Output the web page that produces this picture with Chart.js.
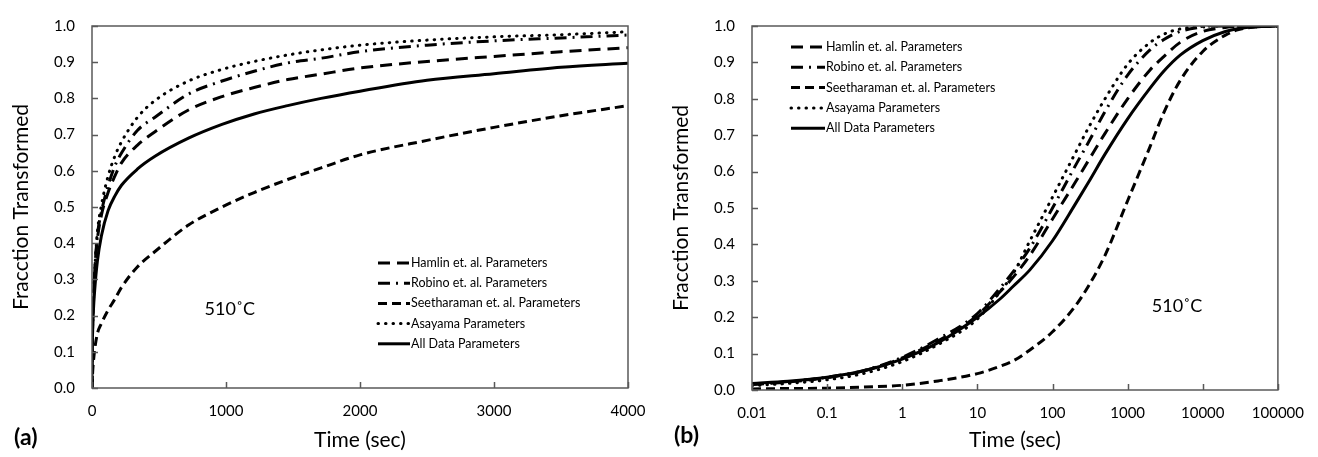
<!DOCTYPE html>
<html>
<head>
<meta charset="utf-8">
<script src="https://cdn.jsdelivr.net/npm/chart.js@4.4.1/dist/chart.umd.min.js"></script>
<style>
html,body{margin:0;padding:0;background:#fff;}
#wrap{position:relative;width:1318px;height:457px;}
canvas{position:absolute;top:0;}
#chartA{left:0;}
#chartB{left:660px;}
</style>
</head>
<body>
<div id="wrap">
  <canvas id="chartA" width="660" height="457"></canvas>
  <canvas id="chartB" width="658" height="457"></canvas>
</div>
<script>
// panel (a): linear time axis
const timesA = [0, 1, 5, 10, 20, 40, 70, 120, 170, 220, 340, 470, 720, 970, 1210, 1460, 1710, 2000, 2500, 3000, 3500, 4000];
const hamlinA = [0, 0.09, 0.18, 0.24, 0.32, 0.41, 0.477, 0.54, 0.585, 0.622, 0.671, 0.708, 0.768, 0.805, 0.83, 0.852, 0.867, 0.884, 0.902, 0.916, 0.929, 0.94];
const robinoA = [0, 0.09, 0.18, 0.24, 0.32, 0.42, 0.486, 0.558, 0.613, 0.649, 0.712, 0.748, 0.812, 0.848, 0.875, 0.898, 0.911, 0.929, 0.947, 0.959, 0.967, 0.975];
const seethA = [0, 0.012, 0.045, 0.07, 0.106, 0.15, 0.178, 0.215, 0.245, 0.278, 0.335, 0.377, 0.45, 0.5, 0.54, 0.576, 0.608, 0.644, 0.684, 0.72, 0.752, 0.78];
const asayamaA = [0, 0.08, 0.17, 0.23, 0.32, 0.43, 0.504, 0.585, 0.64, 0.68, 0.748, 0.794, 0.848, 0.88, 0.902, 0.92, 0.934, 0.947, 0.961, 0.97, 0.976, 0.984];
const allDataA = [0, 0.08, 0.16, 0.21, 0.27, 0.35, 0.42, 0.49, 0.53, 0.56, 0.605, 0.64, 0.69, 0.728, 0.757, 0.78, 0.8, 0.82, 0.85, 0.868, 0.886, 0.897];

// panel (b): log time axis
const timesB = [0.01, 0.03, 0.1, 0.3, 1, 3, 10, 20, 30, 50, 100, 200, 300, 500, 1000, 2000, 3000, 5000, 10000, 20000, 30000, 50000, 100000];
const hamlinB = [0.015, 0.022, 0.034, 0.052, 0.088, 0.135, 0.205, 0.27, 0.31, 0.37, 0.47, 0.57, 0.63, 0.705, 0.8, 0.88, 0.915, 0.955, 0.985, 0.996, 0.999, 1, 1];
const robinoB = [0.016, 0.023, 0.035, 0.053, 0.09, 0.14, 0.21, 0.28, 0.325, 0.39, 0.5, 0.615, 0.68, 0.765, 0.865, 0.935, 0.962, 0.985, 0.997, 1, 1, 1, 1];
const seethB = [0.003, 0.004, 0.005, 0.008, 0.013, 0.025, 0.045, 0.065, 0.08, 0.11, 0.16, 0.23, 0.285, 0.37, 0.52, 0.67, 0.76, 0.85, 0.93, 0.975, 0.99, 0.997, 1];
const asayamaB = [0.012, 0.018, 0.028, 0.045, 0.078, 0.125, 0.195, 0.27, 0.32, 0.41, 0.53, 0.65, 0.72, 0.8, 0.895, 0.955, 0.977, 0.992, 0.999, 1, 1, 1, 1];
const allDataB = [0.018, 0.024, 0.035, 0.052, 0.085, 0.13, 0.2, 0.25, 0.285, 0.33, 0.41, 0.51, 0.57, 0.648, 0.745, 0.83, 0.875, 0.92, 0.96, 0.985, 0.993, 0.998, 1];

const seriesNames = ['Hamlin et. al. Parameters', 'Robino et. al. Parameters', 'Seetharaman et. al. Parameters', 'Asayama Parameters', 'All Data Parameters'];
const xTicksB = [0.01, 0.1, 1, 10, 100, 1000, 10000, 100000];
const xTickLabelsB = ['0.01', '0.1', '1', '10', '100', '1000', '10000', '100000'];

const FONT = 'Lato';
const dashes = [[12, 7], [12, 6, 2, 6], [9, 5], [0.5, 7], []];
const caps = ['butt', 'butt', 'butt', 'round', 'butt'];

const toPts = (xs, ys) => xs.map((t, i) => ({x: t, y: ys[i]}));
const makeSets = (xs, list) => list.map((ys, i) => ({
    label: seriesNames[i],
    data: toPts(xs, ys),
    borderColor: '#000',
    borderWidth: 3,
    borderDash: dashes[i],
    borderCapStyle: caps[i],
    pointRadius: 0,
    fill: false,
    cubicInterpolationMode: 'monotone'
}));

// frame, inner ticks, legend and labels
const panelDecor = {
    id: 'panelDecor',
    afterDatasetsDraw(chart, args, opts){
        const {ctx, chartArea: a, scales: {x, y}} = chart;
        ctx.save();
        ctx.strokeStyle = '#595959';
        ctx.lineWidth = 1.5;
        ctx.setLineDash([]);
        ctx.strokeRect(a.left, a.top, a.right - a.left, a.bottom - a.top);
        ctx.beginPath();
        y.ticks.forEach(t => {
            const py = Math.round(y.getPixelForValue(t.value)) + 0.5;
            ctx.moveTo(a.left, py); ctx.lineTo(a.left + 6, py);
        });
        x.ticks.forEach(t => {
            const px = Math.round(x.getPixelForValue(t.value)) + 0.5;
            ctx.moveTo(px, a.bottom); ctx.lineTo(px, a.bottom - 6);
        });
        ctx.stroke();

        // legend
        ctx.fillStyle = '#000';
        ctx.textAlign = 'left';
        ctx.textBaseline = 'middle';
        ctx.font = `12.5px ${FONT}`;
        chart.data.datasets.forEach((ds, i) => {
            const ly = opts.legY + i * opts.legGap;
            ctx.beginPath();
            ctx.strokeStyle = '#000';
            ctx.lineWidth = 3;
            ctx.lineCap = ds.borderCapStyle;
            ctx.setLineDash(ds.borderDash);
            ctx.moveTo(opts.legX, ly);
            ctx.lineTo(opts.legX + opts.legLen, ly);
            ctx.stroke();
            ctx.fillText(ds.label, opts.legX + opts.legLen + 1, ly);
        });
        ctx.setLineDash([]);

        ctx.font = `18px ${FONT}`;
        ctx.fillText(opts.temp, x.getPixelForValue(opts.tempX), y.getPixelForValue(opts.tempY));
        ctx.font = `bold 23px ${FONT}`;
        ctx.fillText(opts.panel, opts.panelX, opts.panelY);
        ctx.restore();
    }
};

const yAxis = () => ({
    type: 'linear',
    min: 0,
    max: 1,
    afterFit: s => { s.width = 92; },
    grid: {display: false, drawTicks: false, tickLength: 0},
    border: {display: false},
    ticks: {stepSize: 0.1, padding: 17, color: '#000', font: {family: FONT, size: 15}, callback: v => v.toFixed(1)},
    title: {display: true, text: 'Fracction Transformed', color: '#000', font: {family: FONT, size: 21}, padding: {top: 9, bottom: 0}}
});
const xTitle = {display: true, text: 'Time (sec)', color: '#000', font: {family: FONT, size: 21}, padding: {top: 0, bottom: 4}};

new Chart(document.getElementById('chartA'), {
    type: 'line',
    data: {datasets: makeSets(timesA, [hamlinA, robinoA, seethA, asayamaA, allDataA])},
    options: {
        responsive: false,
        devicePixelRatio: 1,
        animation: false,
        events: [],
        layout: {padding: {top: 19, right: 32, left: 0, bottom: 0}},
        plugins: {
            legend: {display: false},
            tooltip: {enabled: false},
            panelDecor: {legX: 378, legLen: 32, legY: 263, legGap: 20.2, temp: '510˚C', tempX: 840, tempY: 0.218, panel: '(a)', panelX: 14, panelY: 438}
        },
        scales: {
            x: {
                type: 'linear',
                min: 0,
                max: 4000,
                afterFit: s => { s.height = 69; },
                grid: {display: false, drawTicks: false, tickLength: 0},
                border: {display: false},
                ticks: {stepSize: 1000, padding: 14, maxRotation: 0, autoSkip: false, color: '#000', font: {family: FONT, size: 15}, callback: v => String(v)},
                title: xTitle
            },
            y: yAxis()
        }
    },
    plugins: [panelDecor]
});

new Chart(document.getElementById('chartB'), {
    type: 'line',
    data: {datasets: makeSets(timesB, [hamlinB, robinoB, seethB, asayamaB, allDataB])},
    options: {
        responsive: false,
        devicePixelRatio: 1,
        animation: false,
        events: [],
        layout: {padding: {top: 22, right: 31, left: 0, bottom: 0}},
        plugins: {
            legend: {display: false},
            tooltip: {enabled: false},
            panelDecor: {legX: 131, legLen: 34, legY: 47, legGap: 20.3, temp: '510˚C', tempX: 2100, tempY: 0.23, panel: '(b)', panelX: 14, panelY: 436}
        },
        scales: {
            x: {
                type: 'logarithmic',
                min: 0.01,
                max: 100000,
                afterBuildTicks: s => { s.ticks = xTicksB.map(v => ({value: v, major: true})); },
                afterFit: s => { s.height = 67; },
                grid: {display: false, drawTicks: false, tickLength: 0},
                border: {display: false},
                ticks: {padding: 14, maxRotation: 0, minRotation: 0, autoSkip: false, color: '#000', font: {family: FONT, size: 15}, callback: (v, i) => xTickLabelsB[i]},
                title: xTitle
            },
            y: yAxis()
        }
    },
    plugins: [panelDecor]
});
</script>
</body>
</html>
